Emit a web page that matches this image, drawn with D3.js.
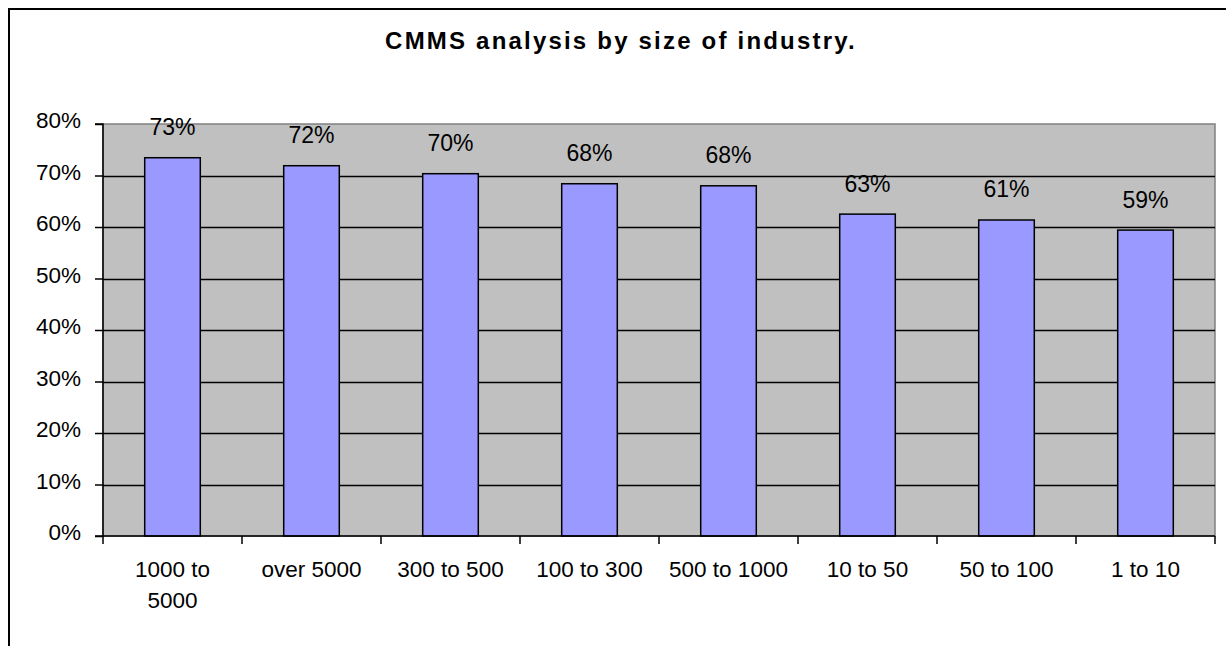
<!DOCTYPE html>
<html>
<head>
<meta charset="utf-8">
<script src="https://cdn.jsdelivr.net/npm/d3@7"></script>
<style>
  html, body { margin: 0; padding: 0; background: #fff; }
  svg { display: block; font-family: Arial, "Liberation Sans", sans-serif; }
</style>
</head>
<body>
<svg id="chart" width="1226" height="646"></svg>
<script>
// Share of companies using a CMMS, grouped by company size
const categories = ["1000 to 5000", "over 5000", "300 to 500", "100 to 300", "500 to 1000", "10 to 50", "50 to 100", "1 to 10"];
const categoryLines = [["1000 to", "5000"], ["over 5000"], ["300 to 500"], ["100 to 300"], ["500 to 1000"], ["10 to 50"], ["50 to 100"], ["1 to 10"]];
const values = [0.7345, 0.719, 0.7035, 0.684, 0.680, 0.625, 0.6136, 0.594];
const yTicks = [0, 0.1, 0.2, 0.3, 0.4, 0.5, 0.6, 0.7, 0.8];
const title = "CMMS analysis by size of industry.";

const svg = d3.select("#chart");
const plot = { left: 103, right: 1215, top: 124, bottom: 536 };

// Outer chart frame (runs past the right and bottom edges)
svg.append("rect")
  .attr("x", 9).attr("y", 9)
  .attr("width", 1300).attr("height", 700)
  .attr("fill", "none").attr("stroke", "#000").attr("stroke-width", 2);

svg.append("text")
  .attr("x", 621).attr("y", 49)
  .attr("text-anchor", "middle")
  .attr("font-size", 24).attr("font-weight", "bold")
  .attr("letter-spacing", 2.2)
  .text(title);

const x = d3.scaleBand().domain(categories).range([plot.left, plot.right]).padding(0);
const y = d3.scaleLinear().domain([0, 0.8]).range([plot.bottom, plot.top]);

// Plot background
svg.append("rect")
  .attr("x", plot.left).attr("y", plot.top)
  .attr("width", plot.right - plot.left).attr("height", plot.bottom - plot.top)
  .attr("fill", "#C0C0C0").attr("stroke", "#808080").attr("stroke-width", 1.5);

// Horizontal gridlines
svg.append("g").selectAll("line")
  .data(yTicks.filter(d => d > 0 && d < 0.8))
  .join("line")
  .attr("x1", plot.left).attr("x2", plot.right)
  .attr("y1", d => Math.round(y(d)) + 0.5).attr("y2", d => Math.round(y(d)) + 0.5)
  .attr("stroke", "#000").attr("stroke-width", 1.3);

// Bars
const barW = x.bandwidth() * 0.4;
svg.append("g").selectAll("rect")
  .data(values)
  .join("rect")
  .attr("x", (d, i) => x(categories[i]) + (x.bandwidth() - barW) / 2)
  .attr("y", d => y(d))
  .attr("width", barW)
  .attr("height", d => y(0) - y(d))
  .attr("fill", "#9999FF").attr("stroke", "#000").attr("stroke-width", 1.5);

// Value labels
svg.append("g").selectAll("text")
  .data(values)
  .join("text")
  .attr("x", (d, i) => x(categories[i]) + x.bandwidth() / 2)
  .attr("y", d => y(d) - 22.5)
  .attr("text-anchor", "middle")
  .attr("font-size", 23)
  .attr("fill", "#000")
  .text(d => d3.format(".0%")(d));

// Y axis
const yAxis = d3.axisLeft(y).tickValues(yTicks).tickFormat(d3.format(".0%")).tickSize(8).tickPadding(14);
const gy = svg.append("g").attr("transform", `translate(${plot.left},0)`).call(yAxis);
gy.select(".domain").attr("stroke", "#000").attr("stroke-width", 1.5).attr("d", `M-8,${plot.top}H0V${plot.bottom}H-8`);
gy.selectAll(".tick line").attr("stroke", "#000").attr("stroke-width", 1.5);
gy.selectAll(".tick text")
  .attr("font-size", 22.5).attr("font-family", "Arial, 'Liberation Sans', sans-serif")
  .attr("fill", "#000").attr("dy", "0.16em");

// X axis: baseline plus tick marks on category boundaries
const gx = svg.append("g");
gx.append("line")
  .attr("x1", plot.left).attr("x2", plot.right)
  .attr("y1", plot.bottom).attr("y2", plot.bottom)
  .attr("stroke", "#000").attr("stroke-width", 1.5);
const bounds = categories.map(c => x(c)).concat([x(categories[categories.length - 1]) + x.bandwidth()]);
gx.selectAll("line.tk")
  .data(bounds)
  .join("line").attr("class", "tk")
  .attr("x1", d => d).attr("x2", d => d)
  .attr("y1", plot.bottom).attr("y2", plot.bottom + 8)
  .attr("stroke", "#000").attr("stroke-width", 1.5);

// Category labels
const cat = gx.selectAll("text.cat")
  .data(categories)
  .join("text").attr("class", "cat")
  .attr("x", d => x(d) + x.bandwidth() / 2)
  .attr("y", 577)
  .attr("text-anchor", "middle")
  .attr("font-size", 22.5)
  .attr("fill", "#000");
cat.selectAll("tspan")
  .data((d, i) => categoryLines[i])
  .join("tspan")
  .attr("x", function () { return d3.select(this.parentNode).attr("x"); })
  .attr("dy", (d, i) => i === 0 ? 0 : 31)
  .text(d => d);
</script>
</body>
</html>
